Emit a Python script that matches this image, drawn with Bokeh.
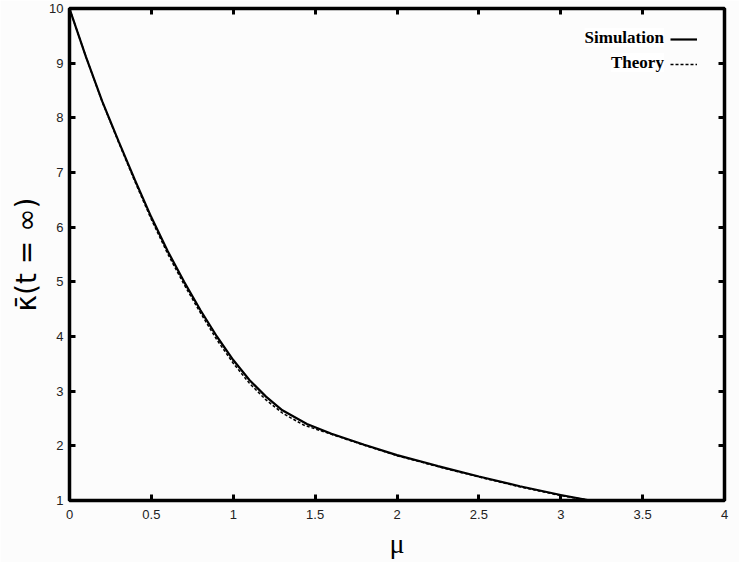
from bokeh.plotting import figure
from bokeh.models import (Range1d, LinearAxis, FixedTicker, Label, Legend, LegendItem)
from bokeh.core.properties import value
from bokeh.embed import file_html
from bokeh.resources import INLINE

# ---- data ----
mu_sim = [0.0, 0.1, 0.2, 0.3, 0.4, 0.5, 0.6, 0.7, 0.8, 0.9, 1.0, 1.1, 1.2, 1.3, 1.45,
          1.6, 1.8, 2.0, 2.25, 2.5, 2.75, 3.0, 3.18]
kappa_sim = [10.0, 9.12, 8.3, 7.57, 6.86, 6.18, 5.56, 5.0, 4.48, 4.0, 3.57, 3.2, 2.9, 2.65, 2.4,
             2.22, 2.02, 1.83, 1.63, 1.44, 1.26, 1.10, 1.0]
mu_th = [0.0, 0.1, 0.2, 0.3, 0.4, 0.5, 0.6, 0.7, 0.8, 0.9, 1.0, 1.1, 1.2, 1.3, 1.43,
         1.6, 1.8, 2.0, 2.25, 2.5, 2.75, 3.0, 3.22]
kappa_th = [10.0, 9.12, 8.29, 7.55, 6.83, 6.14, 5.51, 4.95, 4.43, 3.94, 3.51, 3.14, 2.84, 2.6, 2.38,
            2.21, 2.01, 1.82, 1.62, 1.43, 1.25, 1.09, 0.98]
x_ticks = [0, 0.5, 1, 1.5, 2, 2.5, 3, 3.5, 4]
y_ticks = [1, 2, 3, 4, 5, 6, 7, 8, 9, 10]
series_names = ["Simulation", "Theory"]

BG = "#fcfcfc"
p = figure(width=739, height=562, output_backend="svg", toolbar_location=None,
           x_range=Range1d(0, 4), y_range=Range1d(1, 10),
           min_border_left=69, min_border_right=15, min_border_top=8, min_border_bottom=62)
p.background_fill_color = BG
p.border_fill_color = BG
p.outline_line_color = "black"
p.outline_line_width = 3.5
p.outline_line_alpha = 1.0
p.grid.visible = False

def style_axis(ax, ticks, labels=True):
    ax.ticker = FixedTicker(ticks=ticks)
    ax.axis_line_color = None
    ax.major_tick_in = 6
    ax.major_tick_out = 0
    ax.major_tick_line_width = 3
    ax.major_tick_line_color = "black"
    ax.minor_tick_line_color = None
    if labels:
        ax.major_label_text_font = "Liberation Sans"
        ax.major_label_text_font_size = "13px"
        ax.major_label_text_color = "#222222"
    else:
        ax.major_label_text_font_size = "1px"
        ax.major_label_text_color = None
        ax.major_label_standoff = 0

bottom = p.below[0]
left = p.left[0]
style_axis(bottom, x_ticks)
style_axis(left, y_ticks)
bottom.major_label_standoff = 9
left.major_label_standoff = 6

top = LinearAxis()
right = LinearAxis()
style_axis(top, x_ticks, labels=False)
style_axis(right, y_ticks, labels=False)
p.add_layout(top, "above")
p.add_layout(right, "right")

left.axis_label = "κ̄(t = ∞)"
left.axis_label_text_font = "DejaVu Sans"
left.axis_label_text_font_size = "28px"
left.axis_label_text_font_style = "normal"
left.axis_label_text_color = "black"
left.axis_label_standoff = 3

bottom.axis_label = "μ"
bottom.axis_label_text_font = "Liberation Serif"
bottom.axis_label_text_font_size = "28px"
bottom.axis_label_text_font_style = "normal"
bottom.axis_label_text_color = "black"
bottom.axis_label_standoff = 6

sim = p.line(mu_sim, kappa_sim, line_color="black", line_width=2.2)
th = p.line(mu_th, kappa_th, line_color="black", line_width=1.5, line_dash="3 2")

# legend: line samples at the right, names right-aligned to their left
legend = Legend(items=[LegendItem(label=value(""), renderers=[sim]),
                       LegendItem(label=value(""), renderers=[th])],
                location="top_right", glyph_width=27, glyph_height=8, spacing=17,
                label_width=0, label_standoff=0, label_text_font_size="6px",
                label_text_color=None, padding=0, margin=27,
                border_line_color=None, background_fill_alpha=0)
p.add_layout(legend)
for name, yv in zip(series_names, [9.47, 9.01]):
    p.add_layout(Label(x=3.63, y=yv, text=name, text_align="right", text_baseline="middle",
                       text_font="Liberation Serif", text_font_style="bold",
                       text_font_size="17px", text_color="black",
                       background_fill_color="white"))

open("out.html", "w").write(file_html(p, INLINE))
